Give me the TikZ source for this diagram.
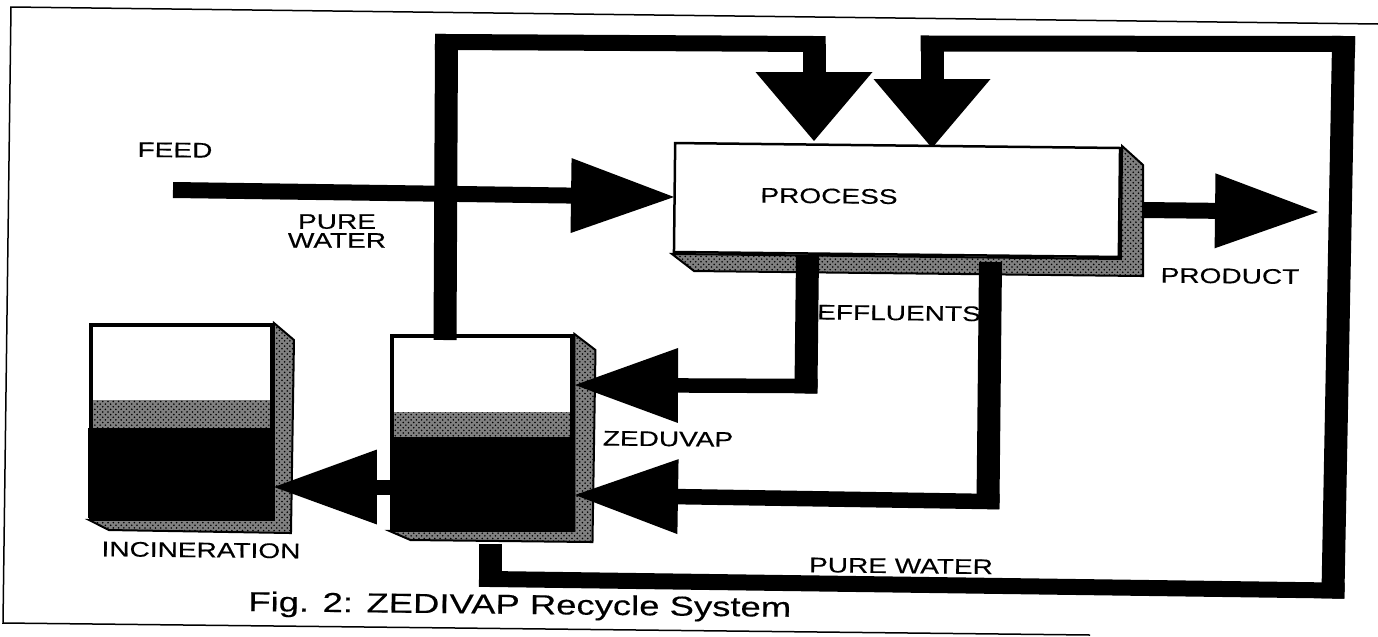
\documentclass[tikz,border=0pt]{standalone}
\usepackage{fontspec}
\setmainfont[FakeStretch=1.33,FakeBold=.3]{Liberation Sans}
\usetikzlibrary{arrows.meta,patterns}
\tikzset{vpipe/.style={line width=.46cm,draw=black}, hpipe/.style={line width=.32cm,draw=black},
headh/.style={-{Triangle[length=2.06cm,width=1.5cm,line width=0pt]}},
headv/.style={-{Triangle[length=1.38cm,width=2.34cm,line width=0pt]}},
tankbody/.style={draw=black,line width=.08cm,fill=white,inner sep=0pt,minimum width=3.62cm,minimum height=3.86cm},
tankband/.style={fill=black!50,postaction={pattern=crosshatch dots,pattern color=black},inner sep=0pt,minimum width=3.54cm},
tankwaste/.style={fill=black,inner sep=0pt,minimum width=3.66cm},
shade/.style={draw=black,line width=.04cm,fill=black!50,postaction={pattern=crosshatch dots,pattern color=black}},
lbl/.style={font=\fontsize{12}{10.8}\selectfont,inner sep=0pt,align=center,rotate=-.6}}

\begin{document}
\begin{tikzpicture}[x=.02cm,y=-.02cm]
\useasboundingbox (0,0) rectangle (1378,636);
% frame
\draw[line width=.03cm] (1378,24)--(11,7)--(3,623)--(1090,635);
% process box and tanks
\node[tankbody,draw=none,fill=none,rotate=-.64,minimum width=8.9cm,minimum height=2.18cm] (process) at (897,200) {};
\fill[shade] (process.north east)--++(21,19)--++(0,111)--++(-449,-5)--(process.south west)--(process.south east)--cycle;
\node[tankbody] (inctank) at (181.5,421.5) {};
\fill[shade] (inctank.north east)--++(20,17)--++(-3,193)--++(-182,-3)--(inctank.south west)--(inctank.south east)--cycle;
\node[tankband,minimum height=.56cm] (incband) at (181.5,414) {};
\node[tankwaste,minimum height=1.8cm] (incwaste) at (179.5,473) {};
\node[tankbody] (zedtank) at (482,432.5) {};
\fill[shade] (zedtank.north east)--++(21,16)--++(-3,192)--++(-182,-2)--(zedtank.south west)--(zedtank.south east)--cycle;
\node[tankband,minimum height=.5cm] (zedband) at (482,424.5) {};
\node[tankwaste,minimum height=1.84cm] (zedwaste) at (481,483) {};
% pipe ends and bends
\coordinate (feedin) at (173,190);
\coordinate (feedtip) at (674,197);
\coordinate (zedout) at (445,340);
\coordinate (topleft) at (446.5,42);
\coordinate (topmid) at (814,44);
\coordinate (midtip) at (814,141);
\coordinate (zedback) at (490.5,544);
\coordinate (lowleft) at (490.5,579);
\coordinate (lowright) at (1333,590.5);
\coordinate (topright) at (1343.5,44);
\coordinate (topend) at (932,43.5);
\coordinate (endtip) at (932,148);
\coordinate (prodout) at (1143,210);
\coordinate (prodtip) at (1318,212);
\coordinate (effa) at (807.5,255);
\coordinate (effabend) at (806,386);
\coordinate (effatip) at (575,385);
\coordinate (effb) at (990.5,262);
\coordinate (effbbend) at (988,501.5);
\coordinate (effbtip) at (575,495);
\coordinate (wasteout) at (390,487);
\coordinate (wastetip) at (274,487);
% pipes
\draw[hpipe,headh] (feedin)--(feedtip);
\draw[vpipe,shorten >=-.16cm] (zedout)--(topleft);
\draw[hpipe,shorten <=-.23cm,shorten >=-.23cm] (topleft)--(topmid);
\draw[vpipe,headv] (topmid)--(midtip);
\draw[vpipe,shorten >=-.16cm] (zedback)--(lowleft);
\draw[hpipe,shorten <=-.23cm,shorten >=-.23cm] (lowleft)--(lowright);
\draw[vpipe,shorten <=-.16cm,shorten >=-.16cm] (lowright)--(topright);
\draw[hpipe,shorten <=-.23cm,shorten >=-.23cm] (topright)--(topend);
\draw[vpipe,headv] (topend)--(endtip);
\draw[hpipe,headh] (prodout)--(prodtip);
\draw[vpipe,shorten >=-.15cm] (effa)--(effabend);
\draw[hpipe,line width=.29cm,headh,shorten <=-.23cm] (effabend)--(effatip);
\draw[vpipe,shorten >=-.15cm] (effb)--(effbbend);
\draw[hpipe,line width=.31cm,headh,shorten <=-.23cm] (effbbend)--(effbtip);
\draw[hpipe,line width=.3cm,headh] (wasteout)--(wastetip);
% box face goes over the pipe ends
\node[tankbody,line width=.05cm,rotate=-.64,minimum width=8.9cm,minimum height=2.18cm] (processface) at (process) {};
% labels
\node[lbl] (processlabel) at (829,196) {PROCESS};
\node[lbl] (feedlabel) at (175,150) {FEED};
\node[lbl,rotate=.6] (purelabel) at (337,231) {PURE\\WATER};
\node[lbl] (productlabel) at (1230,276) {PRODUCT};
\node[lbl] (effluentlabel) at (899,313) {EFFLUENTS};
\node[lbl] (zedlabel) at (668,439) {ZEDUVAP};
\node[lbl] (inclabel) at (201,550) {INCINERATION};
\node[lbl] (backlabel) at (901,566) {PURE WATER};
\node[lbl,font=\fontsize{15.6}{18}\selectfont,anchor=west] (caption) at (248,604) {Fig. 2: ZEDIVAP Recycle System};
\end{tikzpicture}
\end{document}
